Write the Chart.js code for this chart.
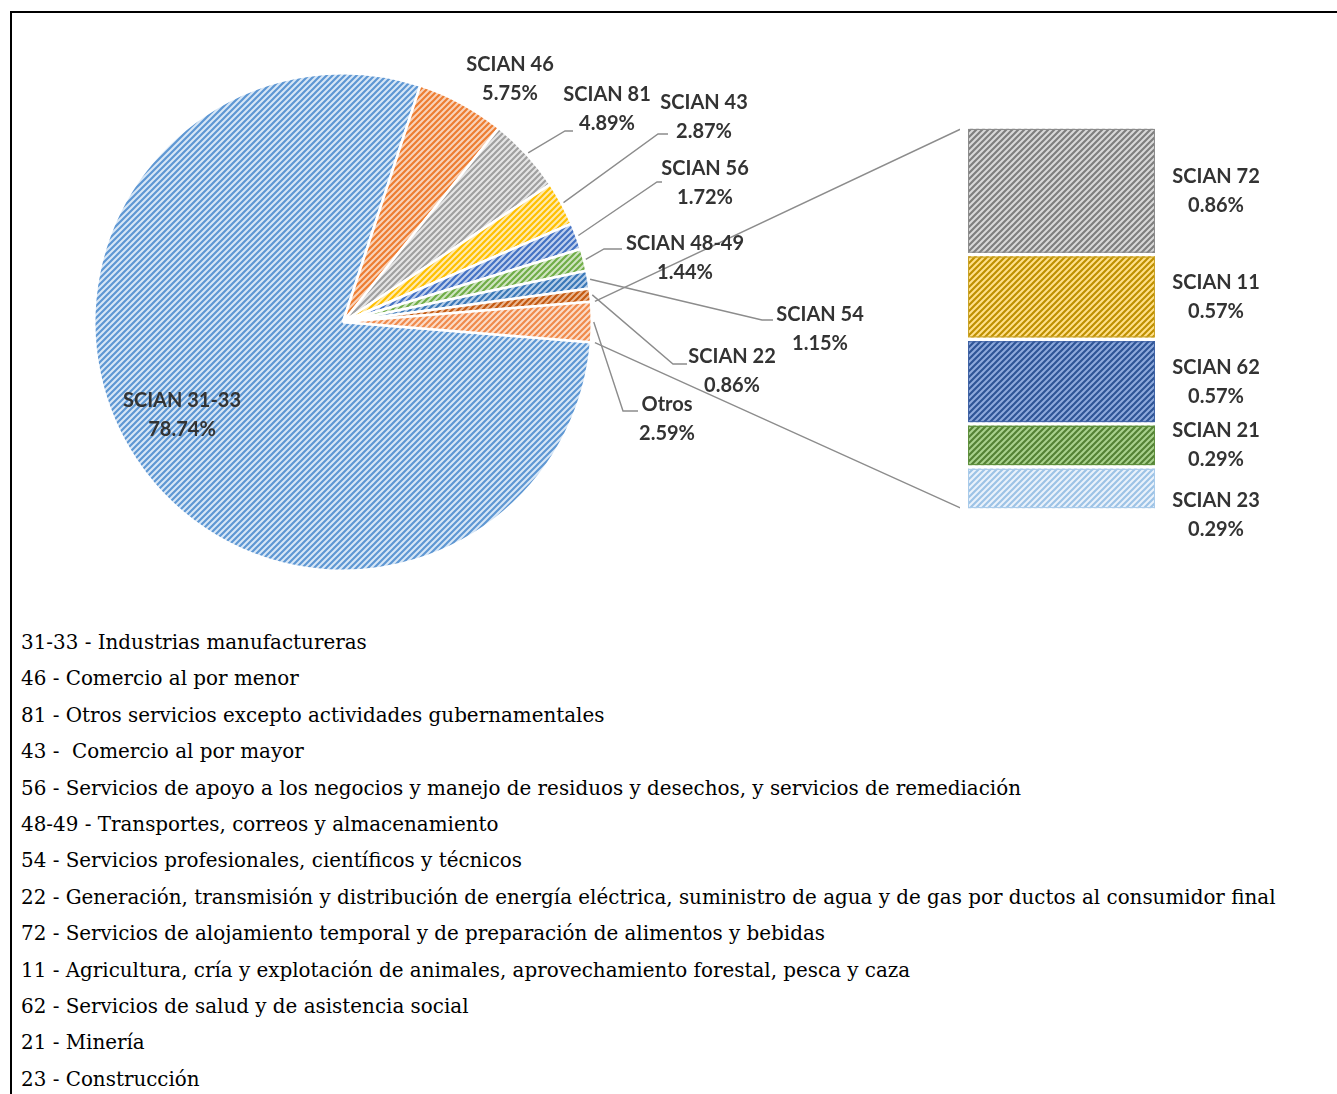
<!DOCTYPE html>
<html>
<head>
<meta charset="utf-8">
<script src="https://cdn.jsdelivr.net/npm/chart.js@4.4.1/dist/chart.umd.min.js"></script>
<style>
    body { margin: 0; background: #fff; width: 1337px; height: 1094px; overflow: hidden; position: relative; }
    #frame { position: absolute; left: 10px; top: 11px; right: 0; bottom: 0; border-top: 2px solid #000; border-left: 2px solid #000; }
    #pieCanvas { position: absolute; left: 0; top: 0; }
    #barCanvas { position: absolute; left: 940px; top: 100px; }
    #codes { position: absolute; left: 21px; top: 625px; font-family: 'DejaVu Serif', serif; font-size: 19.9px; line-height: 36.4px; color: #000; white-space: pre; }
</style>
</head>
<body>
<div id="frame"></div>
<canvas id="pieCanvas" width="960" height="600"></canvas>
<canvas id="barCanvas" width="360" height="440"></canvas>
<div id="codes"></div>

<script>
// pie slices (clockwise, starting just below 3 o'clock)
const pieLabels = ['SCIAN 31-33', 'SCIAN 46', 'SCIAN 81', 'SCIAN 43', 'SCIAN 56', 'SCIAN 48-49', 'SCIAN 54', 'SCIAN 22', 'Otros'];
const pieValues = [78.74, 5.75, 4.89, 2.87, 1.72, 1.44, 1.15, 0.86, 2.59];

// breakdown of "Otros" (top to bottom)
const barLabels = ['SCIAN 72', 'SCIAN 11', 'SCIAN 62', 'SCIAN 21', 'SCIAN 23'];
const barValues = [0.86, 0.57, 0.57, 0.29, 0.29];

// code descriptions under the chart
const codeLines = [
    '31-33 - Industrias manufactureras',
    '46 - Comercio al por menor',
    '81 - Otros servicios excepto actividades gubernamentales',
    '43 -  Comercio al por mayor',
    '56 - Servicios de apoyo a los negocios y manejo de residuos y desechos, y servicios de remediación',
    '48-49 - Transportes, correos y almacenamiento',
    '54 - Servicios profesionales, científicos y técnicos',
    '22 - Generación, transmisión y distribución de energía eléctrica, suministro de agua y de gas por ductos al consumidor final',
    '72 - Servicios de alojamiento temporal y de preparación de alimentos y bebidas',
    '11 - Agricultura, cría y explotación de animales, aprovechamiento forestal, pesca y caza',
    '62 - Servicios de salud y de asistencia social',
    '21 - Minería',
    '23 - Construcción'
];

// [stripe, background]
const pieColors = [
    ['#5E97D3', '#D8E7F6'],
    ['#ED7D31', '#F8D3BA'],
    ['#A0A0A0', '#E6E6E6'],
    ['#FFC000', '#FFEBB0'],
    ['#4472C4', '#C2D1EC'],
    ['#70AD47', '#D0E5C2'],
    ['#3A78B8', '#B8CFE8'],
    ['#C55A11', '#EBB893'],
    ['#F08A4B', '#FBDCC9']
];
const barColors = [
    ['#7F7F7F', '#D9D9D9', '#8C8C8C'],
    ['#BF9000', '#FFE08A', '#C9A227'],
    ['#2F5597', '#8FAADC', '#3F62A4'],
    ['#548235', '#A9D18E', '#5E8F3C'],
    ['#9DC3E6', '#EAF2FB', '#A9CBEA']
];

const labelFont = 'bold 20px Lato, "Open Sans", sans-serif';
const labelColor = '#333333';
const leaderColor = '#8C8C8C';

// label placement for the pie: text centre and optional leader elbow / end
const pieLabelLayout = [
    { x: 182, y: 401 },
    { x: 510, y: 65 },
    { x: 607, y: 95, elbow: [565, 131], end: [573, 131] },
    { x: 704, y: 103, elbow: [658, 134], end: [668, 134] },
    { x: 705, y: 169, elbow: [657, 182], end: [662, 182] },
    { x: 685, y: 244, elbow: [604, 249], end: [622, 249] },
    { x: 820, y: 315, elbow: [762, 320], end: [773, 320] },
    { x: 732, y: 357, elbow: [673, 364], end: [687, 364] },
    { x: 667, y: 405, elbow: [623, 411], end: [638, 411] }
];
const barLabelX = 1216;
const barLabelShift = [0, 0, 0, 0, 27];

document.getElementById('codes').textContent = codeLines.join('\n');

function makePattern(fg, bg) {
    const c = document.createElement('canvas');
    c.width = 6;
    c.height = 6;
    const g = c.getContext('2d');
    g.fillStyle = bg;
    g.fillRect(0, 0, 6, 6);
    g.strokeStyle = fg;
    g.lineWidth = 2.2;
    g.beginPath();
    g.moveTo(-1, 7); g.lineTo(7, -1);
    g.moveTo(-4, 4); g.lineTo(4, -4);
    g.moveTo(2, 10); g.lineTo(10, 2);
    g.stroke();
    return g.createPattern(c, 'repeat');
}

function drawTwoLines(ctx, x, y, l1, l2) {
    ctx.save();
    ctx.font = labelFont;
    ctx.fillStyle = labelColor;
    ctx.textAlign = 'center';
    ctx.textBaseline = 'middle';
    ctx.fillText(l1, x, y);
    ctx.fillText(l2, x, y + 29);
    ctx.restore();
}

const fmt = v => v.toFixed(2) + '%';
const barTotal = barValues.reduce((a, b) => a + b, 0);

// ---- bar of "Otros" ----
const barCtx = document.getElementById('barCanvas').getContext('2d');
const barOutline = {
    id: 'barOutline',
    afterDatasetsDraw(chart) {
        const ctx = chart.ctx;
        chart.data.datasets.forEach((ds, i) => {
            const el = chart.getDatasetMeta(i).data[0];
            const top = Math.min(el.y, el.base) + 2;
            const bottom = Math.max(el.y, el.base) - 2;
            ctx.save();
            ctx.strokeStyle = barColors[i][2];
            ctx.lineWidth = 1;
            ctx.strokeRect(el.x - el.width / 2 + 0.5, top + 0.5, el.width - 1, bottom - top - 1);
            ctx.restore();
            const cy = (top + bottom) / 2 - 14.5 + barLabelShift[i];
            const offX = chart.canvas.offsetLeft;
            drawTwoLines(ctx, barLabelX - offX, cy, barLabels[i], fmt(barValues[i]));
        });
    }
};

const barChart = new Chart(barCtx, {
    type: 'bar',
    data: {
        labels: ['Otros'],
        datasets: barLabels.map((lab, i) => ({
            label: lab,
            data: [barValues[i]],
            backgroundColor: makePattern(barColors[i][0], barColors[i][1]),
            borderColor: '#ffffff',
            borderWidth: { top: 2, bottom: 2, left: 0, right: 0 },
            borderSkipped: false,
            barPercentage: 1,
            categoryPercentage: 1
        }))
    },
    options: {
        responsive: false,
        animation: false,
        layout: { padding: { left: 28, right: 145, top: 27, bottom: 30 } },
        plugins: { legend: { display: false }, tooltip: { enabled: false } },
        scales: {
            x: { display: false, stacked: true },
            y: { display: false, stacked: true, reverse: true, min: 0, max: barTotal }
        }
    },
    plugins: [barOutline]
});

// ---- pie ----
const pieCtx = document.getElementById('pieCanvas').getContext('2d');
const otrosShare = pieValues[pieValues.length - 1] / pieValues.reduce((a, b) => a + b, 0) * 360;

const pieDecor = {
    id: 'pieDecor',
    afterDraw(chart) {
        const ctx = chart.ctx;
        const arcs = chart.getDatasetMeta(0).data;
        ctx.save();
        ctx.strokeStyle = leaderColor;
        ctx.lineWidth = 1.4;

        // leader lines
        arcs.forEach((arc, i) => {
            const lay = pieLabelLayout[i];
            if (!lay.elbow) return;
            const mid = (arc.startAngle + arc.endAngle) / 2;
            const r = arc.outerRadius + 2;
            ctx.beginPath();
            ctx.moveTo(arc.x + Math.cos(mid) * r, arc.y + Math.sin(mid) * r);
            ctx.lineTo(lay.elbow[0], lay.elbow[1]);
            ctx.lineTo(lay.end[0], lay.end[1]);
            ctx.stroke();
        });

        // connectors from "Otros" slice to the bar
        const otros = arcs[arcs.length - 1];
        const bars = barLabels.map((l, i) => barChart.getDatasetMeta(i).data[0]);
        const offX = barChart.canvas.offsetLeft;
        const offY = barChart.canvas.offsetTop;
        const first = bars[0];
        const last = bars[bars.length - 1];
        const leftX = first.x - first.width / 2 + offX - 3;
        const topY = Math.min(first.y, first.base) + offY;
        const botY = Math.max(last.y, last.base) + offY;
        const r2 = otros.outerRadius + 4;
        ctx.beginPath();
        ctx.moveTo(otros.x + Math.cos(otros.startAngle) * r2, otros.y + Math.sin(otros.startAngle) * r2);
        ctx.lineTo(leftX, topY);
        ctx.moveTo(otros.x + Math.cos(otros.endAngle) * r2, otros.y + Math.sin(otros.endAngle) * r2);
        ctx.lineTo(leftX, botY);
        ctx.stroke();
        ctx.restore();

        arcs.forEach((arc, i) => {
            const lay = pieLabelLayout[i];
            drawTwoLines(ctx, lay.x, lay.y, pieLabels[i], fmt(pieValues[i]));
        });
    }
};

new Chart(pieCtx, {
    type: 'pie',
    data: {
        labels: pieLabels,
        datasets: [{
            data: pieValues,
            backgroundColor: pieColors.map(c => makePattern(c[0], c[1])),
            borderColor: '#ffffff',
            borderWidth: 2.5,
            hoverOffset: 0
        }]
    },
    options: {
        responsive: false,
        animation: false,
        rotation: 90 + otrosShare / 2,
        layout: { padding: { left: 93, top: 72, right: 367, bottom: 28 } },
        plugins: { legend: { display: false }, tooltip: { enabled: false } }
    },
    plugins: [pieDecor]
});
</script>
</body>
</html>
